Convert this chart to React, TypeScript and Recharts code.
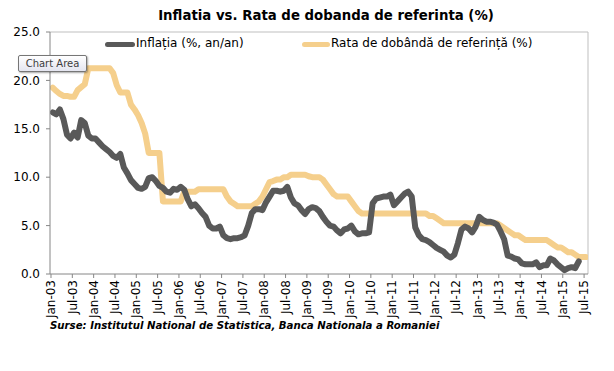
import React from 'react';
import { LineChart, Line, XAxis, YAxis, ReferenceLine } from 'recharts';

// Month labels shown on the x axis (every 6 months, Jan-03 .. Jul-15)
const tickLabels = [
  'Jan-03', 'Jul-03', 'Jan-04', 'Jul-04', 'Jan-05', 'Jul-05', 'Jan-06', 'Jul-06',
  'Jan-07', 'Jul-07', 'Jan-08', 'Jul-08', 'Jan-09', 'Jul-09', 'Jan-10', 'Jul-10',
  'Jan-11', 'Jul-11', 'Jan-12', 'Jul-12', 'Jan-13', 'Jul-13', 'Jan-14', 'Jul-14',
  'Jan-15', 'Jul-15',
];

// Inflatia (%, an/an), monthly from Jan-03
const inflation = [
  16.7, 16.5, 17.0, 16.0, 14.4, 14.0, 14.6, 14.1, 15.9, 15.6, 14.3, 14.0,
  14.0, 13.6, 13.2, 12.9, 12.6, 12.2, 12.0, 12.4, 11.0, 10.4, 9.7, 9.3,
  8.9, 8.8, 9.0, 9.9, 10.0, 9.6, 9.1, 8.9, 8.5, 8.4, 8.8, 8.7,
  9.0, 8.7, 7.7, 7.0, 7.2, 6.8, 6.3, 5.9, 5.0, 4.7, 4.7, 4.9,
  4.0, 3.7, 3.6, 3.7, 3.7, 3.8, 4.0, 5.0, 6.3, 6.7, 6.7, 6.6,
  7.4, 8.0, 8.6, 8.6, 8.5, 8.6, 9.0, 7.9, 7.3, 7.1, 6.6, 6.2,
  6.7, 6.9, 6.8, 6.5, 5.9, 5.4, 5.0, 4.9, 4.5, 4.2, 4.6, 4.7,
  5.0, 4.4, 4.1, 4.2, 4.2, 4.3, 7.3, 7.8, 7.9, 8.0, 8.0, 8.2,
  7.1, 7.5, 7.9, 8.3, 8.5, 8.0, 4.8, 4.0, 3.6, 3.5, 3.3, 3.0,
  2.7, 2.5, 2.3, 1.9, 1.7, 2.0, 3.2, 4.6, 4.9, 4.7, 4.3, 4.9,
  5.9, 5.6, 5.4, 5.4, 5.3, 5.1, 4.4, 3.6, 1.9, 1.8, 1.6, 1.5,
  1.1, 1.0, 1.0, 1.0, 1.2, 0.7, 0.9, 0.9, 1.6, 1.4, 1.0, 0.7,
  0.4, 0.6, 0.7, 0.6, 1.3,
];

// Rata de dobanda de referinta (%), monthly from Jan-03
const policyRate = [
  19.25, 18.9, 18.6, 18.4, 18.4, 18.3, 18.3, 19.0, 19.3, 19.6, 21.25, 21.25,
  21.25, 21.25, 21.25, 21.25, 21.25, 20.75, 19.5, 18.75, 18.75, 18.75, 17.5, 17.0,
  16.4, 15.6, 14.5, 12.5, 12.5, 12.5, 12.5, 7.5, 7.5, 7.5, 7.5, 7.5,
  7.5, 8.5, 8.5, 8.5, 8.5, 8.75, 8.75, 8.75, 8.75, 8.75, 8.75, 8.75,
  8.75, 8.0, 7.5, 7.25, 7.0, 7.0, 7.0, 7.0, 7.0, 7.25, 7.5, 8.0,
  8.75, 9.5, 9.6, 9.75, 9.75, 10.0, 10.0, 10.25, 10.25, 10.25, 10.25, 10.25,
  10.1, 10.0, 10.0, 10.0, 9.75, 9.25, 8.75, 8.25, 8.0, 8.0, 8.0, 8.0,
  7.5, 7.0, 6.5, 6.25, 6.25, 6.25, 6.25, 6.25, 6.25, 6.25, 6.25, 6.25,
  6.25, 6.25, 6.25, 6.25, 6.25, 6.25, 6.25, 6.25, 6.25, 6.25, 6.0, 6.0,
  5.75, 5.5, 5.25, 5.25, 5.25, 5.25, 5.25, 5.25, 5.25, 5.25, 5.25, 5.25,
  5.25, 5.25, 5.25, 5.25, 5.25, 5.25, 5.0, 4.75, 4.5, 4.25, 4.0, 4.0,
  3.75, 3.5, 3.5, 3.5, 3.5, 3.5, 3.5, 3.5, 3.25, 3.0, 2.75, 2.75,
  2.5, 2.25, 2.25, 2.0, 1.75, 1.75, 1.75,
];

const yTicks = [0, 5, 10, 15, 20, 25];

const data = policyRate.map((r, i) => ({
  t: i + 0.5,
  rate: r,
  infl: i < inflation.length ? inflation[i] : null,
}));

const xTicks = tickLabels.map((_, i) => i * 6);

const DARK = '#595959';
const ORANGE = '#F5CF8C';
const AXIS = '#868686';
const FONT = "'DejaVu Sans', sans-serif";

const XTick = (props: any) => {
  const { x, y, payload } = props;
  const label = tickLabels[Math.round(payload.value / 6)];
  return (
    <g transform={`translate(${x},${y})`}>
      <text
        transform="rotate(-90)"
        x={0}
        y={0}
        dy={4.2}
        textAnchor="end"
        fontSize={12}
        fontFamily={FONT}
        fill="#000"
      >
        {label}
      </text>
    </g>
  );
};

export default function App() {
  return (
    <div style={{ position: 'absolute', left: 0, top: 0, width: 614, height: 371, background: '#fff' }}>
      <div
        style={{
          position: 'absolute',
          left: 326,
          top: 8,
          transform: 'translateX(-50%)',
          whiteSpace: 'nowrap',
          fontFamily: FONT,
          fontWeight: 'bold',
          fontSize: 13.3,
          color: '#000',
        }}
      >
        Inflatia vs. Rata de dobanda de referinta (%)
      </div>

      <LineChart
        width={614}
        height={371}
        data={data}
        margin={{ top: 32, right: 26, bottom: 37, left: 0 }}
      >
        <XAxis
          dataKey="t"
          type="number"
          domain={[-0.28, 151.1]}
          allowDataOverflow
          ticks={xTicks}
          interval={0}
          tick={<XTick />}
          tickSize={4}
          tickMargin={2}
          height={60}
          axisLine={{ stroke: AXIS }}
          tickLine={{ stroke: AXIS }}
        />
        <YAxis
          type="number"
          domain={[0, 25]}
          ticks={yTicks}
          interval={0}
          width={50}
          tickFormatter={(v: number) => v.toFixed(1)}
          tick={{ fontSize: 12, fontFamily: FONT, fill: '#000' }}
          tickSize={4}
          tickMargin={6}
          axisLine={{ stroke: AXIS }}
          tickLine={{ stroke: AXIS }}
        />
        <ReferenceLine y={25} stroke="#BFBFBF" />
        <ReferenceLine x={151.1} stroke="#BFBFBF" />
        <Line
          dataKey="rate"
          type="linear"
          stroke={ORANGE}
          strokeWidth={6}
          dot={false}
          strokeLinejoin="round"
          strokeLinecap="round"
          isAnimationActive={false}
        />
        <Line
          dataKey="infl"
          type="linear"
          stroke={DARK}
          strokeWidth={6}
          dot={false}
          strokeLinejoin="round"
          strokeLinecap="round"
          connectNulls={false}
          isAnimationActive={false}
        />
      </LineChart>

      {/* Legend */}
      <div style={{ position: 'absolute', left: 105, top: 42, width: 30, height: 5, borderRadius: 3, background: DARK }} />
      <div style={{ position: 'absolute', left: 136, top: 36, fontFamily: FONT, fontSize: 12, color: '#000', whiteSpace: 'nowrap' }}>
        Inflația (%, an/an)
      </div>
      <div style={{ position: 'absolute', left: 302, top: 42, width: 28, height: 5, borderRadius: 3, background: ORANGE }} />
      <div style={{ position: 'absolute', left: 331, top: 36, fontFamily: FONT, fontSize: 12, color: '#000', whiteSpace: 'nowrap' }}>
        Rata de dobândă de referință (%)
      </div>

      {/* Excel tooltip */}
      <div
        style={{
          position: 'absolute',
          left: 18,
          top: 55,
          width: 67,
          height: 15,
          border: '1px solid #767676',
          borderRadius: 2,
          background: 'linear-gradient(#ffffff, #e4e5f0)',
          boxShadow: '1px 1px 2px rgba(0,0,0,0.35)',
          fontFamily: FONT,
          fontSize: 10,
          lineHeight: '15px',
          color: '#3c3c3c',
          textAlign: 'center',
          whiteSpace: 'nowrap',
        }}
      >
        Chart Area
      </div>

      {/* Source */}
      <div
        style={{
          position: 'absolute',
          left: 50,
          top: 320,
          fontFamily: FONT,
          fontWeight: 'bold',
          fontStyle: 'italic',
          fontSize: 10.2,
          color: '#000',
          whiteSpace: 'nowrap',
        }}
      >
        Surse: Institutul National de Statistica, Banca Nationala a Romaniei
      </div>
    </div>
  );
}
